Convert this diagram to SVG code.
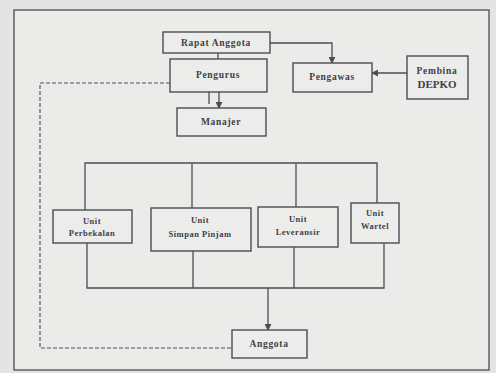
<svg xmlns="http://www.w3.org/2000/svg" width="496" height="373" viewBox="0 0 496 373">
<style>
.bg{fill:#e4e4e2}
.frame{fill:#ebebe9;stroke:#56565e;stroke-width:1.4}
.box{fill:#ececea;stroke:#4c4c56;stroke-width:1.4}
.ln{fill:none;stroke:#4c4c56;stroke-width:1.3}
.dash{fill:none;stroke:#55555e;stroke-width:1.2;stroke-dasharray:4 2}
text{font-family:"Liberation Serif","Times New Roman",serif;font-weight:bold;fill:#3e3e48;text-anchor:middle}
.t{font-size:9.5px;letter-spacing:0.7px}
.s{font-size:8.5px;letter-spacing:0.5px}
.b{font-size:11px}
</style>
<defs>
<marker id="ah" viewBox="0 0 8 8" refX="7" refY="4" markerWidth="7" markerHeight="7" markerUnits="userSpaceOnUse" orient="auto">
<path d="M0,0 L8,4 L0,8 Z" fill="#4c4c56"/>
</marker>
</defs>
<rect class="bg" x="0" y="0" width="496" height="373"/>
<rect class="frame" x="14" y="10" width="475" height="360"/>
<g id="connectors">
<line class="ln" x1="218" y1="53" x2="218" y2="59"/>
<polyline class="ln" points="270,43 332,43 332,63" marker-end="url(#ah)"/>
<line class="ln" x1="407" y1="73" x2="372" y2="73" marker-end="url(#ah)"/>
<line class="ln" x1="209" y1="80" x2="209" y2="104"/>
<line class="ln" x1="219" y1="92" x2="219" y2="108" marker-end="url(#ah)"/>
<polyline class="dash" points="170,83 40,83 40,348 232,348"/>
<polyline class="ln" points="85,210 85,163 377,163 377,203"/>
<line class="ln" x1="192" y1="163" x2="192" y2="208"/>
<line class="ln" x1="296" y1="163" x2="296" y2="207"/>
<polyline class="ln" points="87,243 87,288 384,288 384,243"/>
<line class="ln" x1="193" y1="251" x2="193" y2="288"/>
<line class="ln" x1="294" y1="247" x2="294" y2="288"/>
<line class="ln" x1="268" y1="288" x2="268" y2="330" marker-end="url(#ah)"/>
</g>
<g id="rapat-anggota">
<rect class="box" x="163" y="32" width="107" height="21"/>
<text class="t" x="216" y="46">Rapat Anggota</text>
</g>
<g id="pengurus">
<rect class="box" x="170" y="59" width="97" height="33"/>
<text class="t" x="218" y="78">Pengurus</text>
</g>
<g id="pengawas">
<rect class="box" x="293" y="63" width="79" height="29"/>
<text class="t" x="332" y="80">Pengawas</text>
</g>
<g id="pembina-depko">
<rect class="box" x="407" y="56" width="61" height="43"/>
<text class="t" x="437" y="74">Pembina</text>
<text class="b" x="437" y="88">DEPKO</text>
</g>
<g id="manajer">
<rect class="box" x="177" y="108" width="89" height="28"/>
<text class="t" x="221" y="125">Manajer</text>
</g>
<g id="unit-perbekalan">
<rect class="box" x="53" y="210" width="79" height="33"/>
<text class="s" x="92" y="224">Unit</text>
<text class="s" x="92" y="236">Perbekalan</text>
</g>
<g id="unit-simpan-pinjam">
<rect class="box" x="151" y="208" width="100" height="43"/>
<text class="s" x="200" y="223">Unit</text>
<text class="s" x="200" y="237">Simpan Pinjam</text>
</g>
<g id="unit-leveransir">
<rect class="box" x="258" y="207" width="80" height="40"/>
<text class="s" x="298" y="222">Unit</text>
<text class="s" x="298" y="235">Leveransir</text>
</g>
<g id="unit-wartel">
<rect class="box" x="351" y="203" width="48" height="40"/>
<text class="s" x="375" y="216">Unit</text>
<text class="s" x="375" y="229">Wartel</text>
</g>
<g id="anggota">
<rect class="box" x="232" y="330" width="75" height="28"/>
<text class="t" x="269" y="347">Anggota</text>
</g>
</svg>
